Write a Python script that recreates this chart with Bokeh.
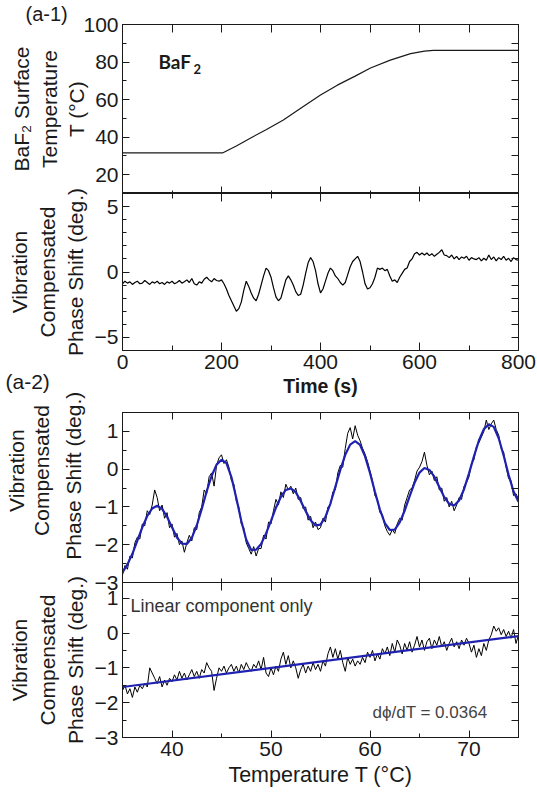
from bokeh.plotting import figure
from bokeh.layouts import column
from bokeh.models import LinearAxis, Range1d, FixedTicker, Label, Title
from bokeh.embed import file_html
from bokeh.resources import INLINE

# ---------------- data ----------------
# (a-1) surface temperature vs time
temp_time = [0, 202, 230, 259, 290, 325, 360, 400, 434, 470, 501, 541, 582, 610, 628, 800]
temp_vals = [31.6, 31.6, 35.3, 39.6, 44.0, 49.1, 55.4, 62.4, 67.7, 72.5, 76.8, 81.0, 84.5, 85.8, 86.2, 86.2]

# (a-1) vibration compensated phase shift vs time (5 s sampling)
phase_time = list(range(0, 805, 5))
phase_vals = [
    -0.9, -0.7, -0.85, -0.75, -0.95, -0.8, -0.7, -0.9, -0.85, -0.65,
    -0.8, -0.95, -0.75, -0.85, -0.7, -0.9, -0.8, -0.95, -0.75, -0.85,
    -0.7, -0.9, -0.8, -0.65, -0.85, -0.75, -0.6, -0.8, -0.5, -0.9,
    -1.0, -0.75, -0.85, -0.55, -0.4, -0.6, -0.75, -0.5, -0.65, -0.7,
    -0.6, -0.9, -1.3, -1.8, -2.2, -2.6, -3.0, -2.8, -2.3, -1.4,
    -0.7, -1.1, -1.6, -2.0, -2.2, -1.7, -1.0, -0.3, 0.3, 0.1,
    -0.4, -1.2, -1.9, -2.2, -2.0, -1.3, -0.6, -0.3, -0.6, -1.0,
    -1.5, -1.8, -1.7, -1.0, -0.1, 0.7, 1.1, 0.8, 0.1, -0.9,
    -1.6, -1.3, -0.7, -0.1, 0.3, 0.1, -0.3, -0.5, -0.8, -1.0,
    -0.8, -0.2, 0.4, 0.8, 1.0, 1.2, 0.8, 0.0, -0.9, -1.3,
    -1.2, -0.9, -0.4, 0.3, 0.2, 0.3, 0.1, 0.2, -0.3, -0.7,
    -0.6, -0.8, -0.4, -0.1, 0.2, 0.3, 0.8, 1.0, 1.4, 1.5,
    1.3, 1.45, 1.3, 1.45, 1.25, 1.4, 1.2, 1.35, 1.5, 1.7,
    1.3, 1.25, 1.1, 1.3, 1.0, 1.2, 0.95, 1.15, 1.05, 1.2,
    0.9, 1.1, 1.0, 0.95, 1.1, 0.85, 1.05, 0.9, 1.3, 0.95,
    1.15, 0.85, 1.1, 0.95, 1.2, 0.9, 1.05, 0.8, 1.1, 0.95,
    0.9,
]

# (a-2) phase shift vs temperature (0.25 C sampling)
temp_axis = [35 + 0.25 * i for i in range(161)]
meas_vals = [
    -2.8, -2.55, -2.65, -2.3, -2.35, -1.95, -1.8, -1.85,
    -1.45, -1.5, -1.1, -1.2, -0.95, -0.55, -0.75, -1.1,
    -0.95, -1.3, -1.15, -1.55, -1.45, -1.8, -1.7, -2.0,
    -1.9, -2.2, -1.95, -1.75, -1.9, -1.55, -1.6, -1.15,
    -1.0, -0.55, -0.65, -0.2, -0.1, -0.45, 0.1, 0.3,
    0.38, 0.15, 0.25, 0.05, -0.3, -0.4, -0.85, -1.0,
    -1.45, -1.55, -1.95, -2.1, -2.25, -2.05, -2.3, -2.1,
    -2.1, -1.75, -1.85, -1.4, -1.45, -1.1, -0.8, -0.95,
    -0.6, -0.75, -0.4, -0.55, -0.45, -0.65, -0.5, -0.8,
    -0.75, -1.05, -1.0, -1.35, -1.25, -1.55, -1.4, -1.6,
    -1.55, -1.3, -1.4, -1.0, -0.95, -0.6, -0.55, -0.1,
    0.1, 0.05, 0.55, 0.95, 1.1, 0.8, 1.15, 0.9,
    0.75, 0.55, 0.4, 0.2, -0.05, -0.3, -0.7, -0.8,
    -1.15, -1.2, -1.5, -1.65, -1.75, -1.6, -1.7, -1.45,
    -1.3, -1.35, -0.95, -0.75, -0.55, -0.5, -0.3, -0.05,
    0.05, 0.2, 0.45, 0.1, -0.15, -0.05, -0.3, -0.2,
    -0.55, -0.5, -0.85, -0.75, -1.0, -0.85, -1.1, -0.95,
    -0.75, -0.8, -0.45, -0.35, -0.2, 0.15, 0.25, 0.6,
    0.7, 0.85, 1.0, 1.3, 1.05, 1.2, 1.3, 1.05,
    0.9, 0.55, 0.45, 0.05, -0.25, -0.3, -0.7, -0.65,
    -0.8,
]
fit_temp = [35 + 0.5 * i for i in range(81)]
fit_vals = [
    -2.73, -2.52, -2.24, -1.89, -1.54, -1.24, -1.04, -0.97, -1.05, -1.26,
    -1.54, -1.81, -1.97, -1.98, -1.82, -1.49, -1.06, -0.59, -0.18, 0.12,
    0.25, 0.16, -0.21, -0.77, -1.37, -1.87, -2.14, -2.13, -1.98, -1.70,
    -1.37, -1.02, -0.73, -0.55, -0.51, -0.61, -0.84, -1.11, -1.35, -1.49,
    -1.47, -1.26, -0.91, -0.47, -0.02, 0.38, 0.65, 0.74, 0.64, 0.34,
    -0.10, -0.60, -1.07, -1.43, -1.61, -1.60, -1.41, -1.10, -0.72, -0.36,
    -0.09, 0.03, -0.02, -0.20, -0.47, -0.74, -0.92, -0.96, -0.83, -0.53,
    -0.11, 0.34, 0.76, 1.06, 1.19, 1.12, 0.82, 0.36, -0.15, -0.59,
    -0.86,
]

# linear component only
lin_vals = [
    -1.65, -1.5, -1.75, -1.6, -1.85, -1.55, -1.7, -1.5,
    -1.6, -1.45, -1.55, -1.0, -1.15, -1.3, -1.45, -1.25,
    -1.55, -1.35, -1.5, -1.3, -1.4, -1.2, -1.35, -1.1,
    -1.3, -1.15, -1.35, -1.2, -1.05, -1.25, -1.1, -1.3,
    -1.05, -1.15, -0.85, -1.0, -1.1, -1.65, -1.3, -1.0,
    -1.1, -0.95, -1.15, -1.0, -0.9, -1.1, -0.95, -1.15,
    -0.9, -1.05, -0.85, -1.0, -1.1, -0.9, -1.0, -0.8,
    -1.05, -0.7, -1.15, -1.25, -1.0, -1.2, -0.95, -1.1,
    -0.75, -0.55, -0.9, -0.65, -1.0, -0.8, -1.0, -1.3,
    -1.05, -0.9, -1.15, -0.95, -1.1, -0.85, -1.05, -0.9,
    -1.1, -0.8, -0.95, -0.6, -0.4, -0.7, -0.45, -0.75,
    -0.5, -0.85, -1.1, -0.7, -0.9, -0.75, -0.95, -0.8,
    -0.9, -0.7, -0.85, -0.55, -0.7, -0.5, -0.8, -0.6,
    -0.75, -0.45, -0.6, -0.4, -0.65, -0.3, -0.55, -0.2,
    -0.35, -0.6, -0.3, -0.5, -0.25, -0.55, -0.35, -0.1,
    -0.4, -0.2, -0.5, -0.25, -0.15, -0.45, -0.2, -0.35,
    -0.1, -0.4, -0.25, -0.5, -0.3, -0.15, -0.4, -0.25,
    -0.45, -0.2, -0.35, -0.15, -0.3, -0.55, -0.35, -0.7,
    -0.45, -0.65, -0.3, -0.5, -0.2, -0.05, 0.2, 0.05,
    0.15, -0.05, 0.1, -0.1, 0.05, -0.15, 0.1, -0.3,
    -0.05,
]
lin_fit_temp = [35, 75]
lin_fit_vals = [-1.55, -0.09]
slope_text = "dϕ/dT = 0.0364"

assert len(phase_vals) == len(phase_time)
assert len(meas_vals) == len(temp_axis)
assert len(lin_vals) == len(temp_axis)
assert len(fit_vals) == len(fit_temp)

# tick positions
time_major = [0, 200, 400, 600, 800]
time_minor = [100, 300, 500, 700]
time_all = [0, 100, 200, 300, 400, 500, 600, 700, 800]
tsurf_major = [20, 40, 60, 80, 100]
tsurf_minor = [10, 30, 50, 70, 90]
tsurf_all = [10, 20, 30, 40, 50, 60, 70, 80, 90, 100]
ph1_major = [-5, 0, 5]
ph1_minor = [-6, -4, -3, -2, -1, 1, 2, 3, 4, 6]
ph1_all = [-6, -5, -4, -3, -2, -1, 0, 1, 2, 3, 4, 5, 6]
tc_major = [40, 50, 60, 70]
tc_minor = [35, 45, 55, 65, 75]
tc_all = [35, 40, 45, 50, 55, 60, 65, 70, 75]
ph2_major = [-3, -2, -1, 0, 1]
ph2_minor = [-2.5, -1.5, -0.5, 0.5, 1.5]
ph2_all = [-3, -2.5, -2, -1.5, -1, -0.5, 0, 0.5, 1, 1.5]

TEMP_TITLE = "BaF\u2082 Surface\nTemperature\nT (\u00b0C)"
PHASE_LINES = ["Vibration", "Compensated", "Phase Shift (deg.)"]
PHASE_TITLE = "\n".join(PHASE_LINES)

# ---------------- style ----------------
FONT = "Liberation Sans"
INK = "#1a1a1a"
BLUE = "#1f22b0"
W = 537
TICK_FS = "21px"
TITLE_FS = "21px"


def make_fig(h, top, bottom, xr, yr, transparent=True):
    p = figure(width=W, height=h, x_range=Range1d(*xr), y_range=Range1d(*yr),
               output_backend="svg", toolbar_location=None,
               x_axis_location=None, y_axis_location=None,
               min_border_left=122, min_border_right=19,
               min_border_top=top, min_border_bottom=bottom)
    p.xgrid.visible = False
    p.ygrid.visible = False
    p.outline_line_color = INK
    p.outline_line_width = 1
    if transparent:
        p.background_fill_color = None
        p.border_fill_color = None
    else:
        p.background_fill_color = "white"
        p.border_fill_color = "white"
    return p


def add_axis(p, side, ticks, minor, labels=False, tl=7, ml=4,
             title=None, title_standoff=0, title_bold=False, title_fs=TITLE_FS):
    ax = LinearAxis(ticker=FixedTicker(ticks=ticks, minor_ticks=minor))
    ax.major_tick_in = tl
    ax.major_tick_out = 0
    ax.minor_tick_in = ml
    ax.minor_tick_out = 0
    ax.axis_line_color = INK
    ax.major_tick_line_color = INK
    ax.minor_tick_line_color = INK
    if labels:
        ax.major_label_text_font = FONT
        ax.major_label_text_font_size = TICK_FS
        ax.major_label_text_color = INK
        ax.major_label_standoff = 4
    else:
        ax.major_label_text_font_size = "0px"
        ax.major_label_text_color = None
        ax.major_label_standoff = 0
    if title:
        ax.axis_label = title
        ax.axis_label_text_font = FONT
        ax.axis_label_text_font_size = title_fs
        ax.axis_label_text_color = INK
        ax.axis_label_text_font_style = "bold" if title_bold else "normal"
        ax.axis_label_standoff = title_standoff
    p.add_layout(ax, side)
    return ax


def label(p, x, y, text, size="21px", bold=False, color=INK, font=FONT):
    # text inside the plotting frame
    p.add_layout(Label(x=x, y=y, x_units="screen", y_units="screen", text=text,
                       text_font=font, text_font_size=size, text_color=color,
                       text_font_style="bold" if bold else "normal",
                       text_baseline="top", text_align="left"))


def side_text(p, side, text, offset, standoff, size="21px"):
    # text outside the plotting frame (side panels are not clipped)
    p.add_layout(Title(text=text, align="left", offset=offset, standoff=standoff,
                       vertical_align="bottom", text_font=FONT,
                       text_font_size=size, text_font_style="normal",
                       text_color=INK), side)


# ---- panel (a-1) top: temperature ----
p1 = make_fig(193, 24, 0, (0, 800), (10, 100), transparent=False)
p1.line(temp_time, temp_vals, line_color=INK, line_width=1.2)
add_axis(p1, "left", tsurf_major, tsurf_minor, labels=True,
         title=TEMP_TITLE, title_standoff=-8)
add_axis(p1, "right", tsurf_all, [], tl=7)
add_axis(p1, "above", time_all, [], tl=8)
add_axis(p1, "below", time_major, time_minor, tl=7, ml=3)
side_text(p1, "above", "(a-1)", -97, 0, size="20px")
label(p1, 36, 144, "BaF", size="19px", bold=True, font="Lato")
label(p1, 71, 130, "2", size="13px", bold=True, font="Lato")

# ---- panel (a-1) bottom: phase vs time ----
p2 = make_fig(239, 20, 62, (0, 800), (-6, 6))
p2.margin = (-20, 0, 0, 0)
p2.line(phase_time, phase_vals, line_color="black", line_width=1.2)
add_axis(p2, "left", ph1_major, ph1_minor, labels=True,
         title=PHASE_TITLE, title_standoff=5)
add_axis(p2, "right", ph1_all, [], tl=7)
add_axis(p2, "above", time_major, time_minor, tl=8, ml=5)
add_axis(p2, "below", time_major, time_minor, labels=True, tl=8, ml=5,
         title="Time (s)", title_standoff=3, title_bold=True, title_fs="19.5px")

# ---- panel (a-2) top: phase vs temperature with fit ----
p3 = make_fig(248, 66, 12, (35, 75), (-3, 1.5))
p3.margin = (-66, 0, 0, 0)
p3.line(temp_axis, meas_vals, line_color="black", line_width=1)
p3.line(fit_temp, fit_vals, line_color=BLUE, line_width=2.2)
add_axis(p3, "left", ph2_major, ph2_minor, labels=True)
add_axis(p3, "right", ph2_all, [], tl=7)
add_axis(p3, "above", tc_all, [], tl=7)
add_axis(p3, "below", tc_major, tc_minor, tl=5, ml=4)
side_text(p3, "above", "(a-2)", -117, 39)
side_text(p3, "left", PHASE_LINES[2], 22.7, 14)
side_text(p3, "left", PHASE_LINES[1], 46.6, 0)
side_text(p3, "left", PHASE_LINES[0], 70.6, 0)

# ---- panel (a-2) bottom: linear component only ----
p4 = make_fig(233, 18, 60, (35, 75), (-3, 1.45))
p4.margin = (-30, 0, 0, 0)
p4.line(temp_axis, lin_vals, line_color="black", line_width=1)
p4.line(lin_fit_temp, lin_fit_vals, line_color=BLUE, line_width=2.2)
add_axis(p4, "left", ph2_major, ph2_minor, labels=True,
         title=PHASE_TITLE, title_standoff=5)
add_axis(p4, "right", ph2_all, [], tl=7)
add_axis(p4, "above", tc_all, [], tl=8)
add_axis(p4, "below", tc_major, tc_minor, labels=True, tl=7, ml=4,
         title="Temperature T (\u00b0C)", title_standoff=4, title_fs="21.5px")
label(p4, 8, 142, "Linear component only", size="18px", color="#333333")
label(p4, 250, 35, slope_text, size="17px", color="#444444")

layout = column(p1, p2, p3, p4, spacing=0)
open("out.html", "w").write(file_html(layout, INLINE))
